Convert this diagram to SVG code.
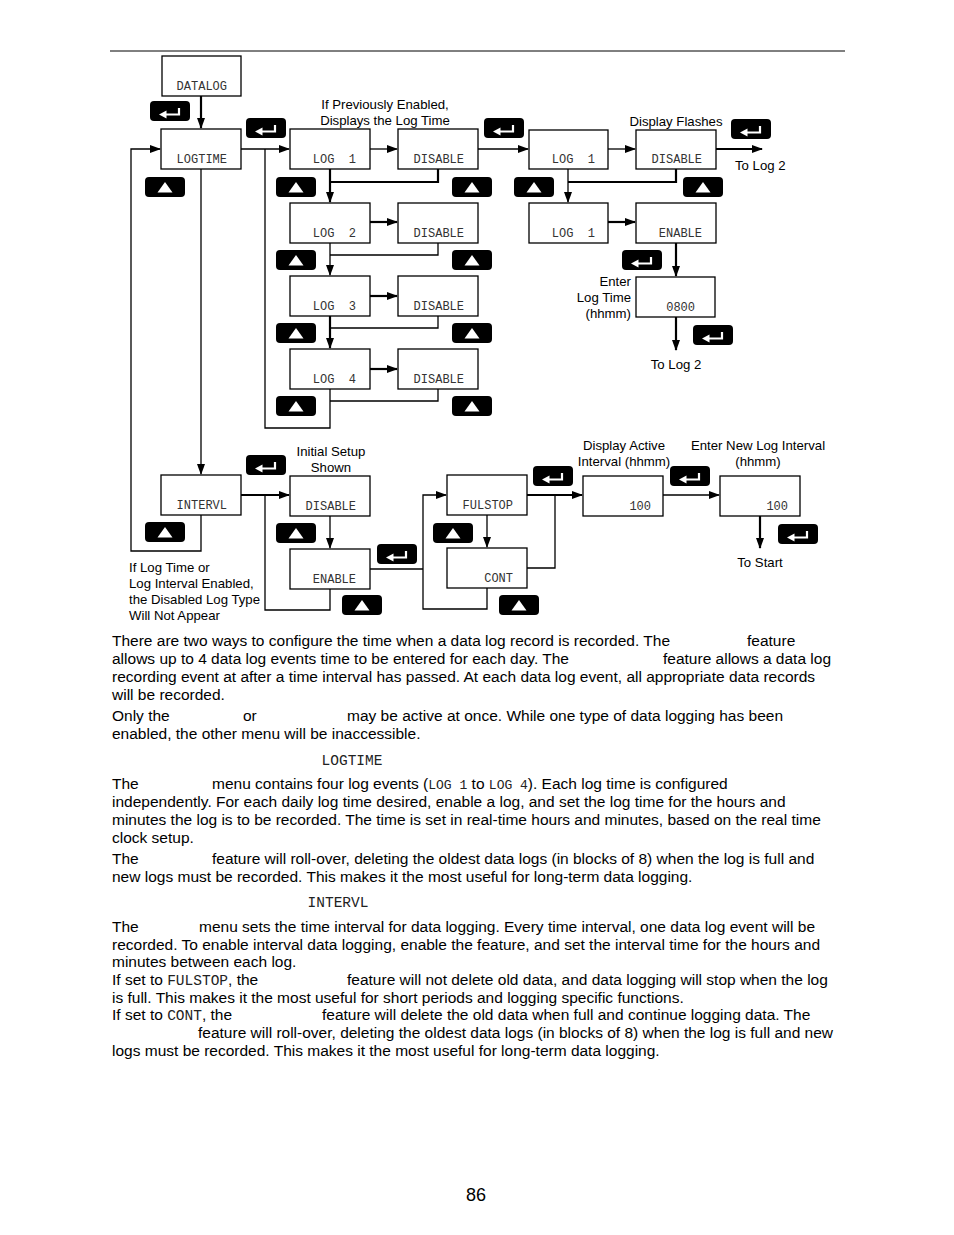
<svg xmlns="http://www.w3.org/2000/svg" xmlns:xlink="http://www.w3.org/1999/xlink" width="954" height="1235" viewBox="0 0 954 1235">
<style>
.bx{fill:#fff;stroke:#000;stroke-width:1.3}
.lcd{font-family:"Liberation Mono","DejaVu Sans Mono",monospace;font-size:12px;fill:#333;text-anchor:end}
.lcdi{font-family:"Liberation Mono","DejaVu Sans Mono",monospace;font-size:14.5px;fill:#222}
.lb{font-family:"Liberation Sans",Arial,sans-serif;font-size:13.2px;fill:#000}
.c{text-anchor:middle}
.r{text-anchor:end}
.bd{font-family:"Liberation Sans",Arial,sans-serif;font-size:15.5px;fill:#000}
.tn{fill:none;stroke:#000;stroke-width:1.3}
.tk{fill:none;stroke:#000;stroke-width:2.2}
</style>
<defs>
<marker id="ar" markerWidth="11" markerHeight="8" refX="10" refY="4" orient="auto" markerUnits="userSpaceOnUse"><path d="M0,0 L11,4 L0,8 Z" fill="#000"/></marker>
<g id="ent"><rect x="0" y="0" width="40" height="20" rx="4" fill="#000"/><path d="M15,13.5 H29 V7" stroke="#fff" stroke-width="2.2" fill="none"/><path d="M9,13.5 L16.5,9.5 V17.5 Z" fill="#fff"/></g>
<g id="up"><rect x="0" y="0" width="40" height="20" rx="4" fill="#000"/><path d="M12.5,15.5 H27.5 L20,5 Z" fill="#fff"/></g>
</defs>
<rect width="954" height="1235" fill="#fff"/>
<line x1="110" y1="51" x2="845" y2="51" stroke="#000" stroke-width="1"/>

<g id="connectors">
<path class="tk" d="M201,96 V128" marker-end="url(#ar)"/>
<path class="tn" d="M241,149 H289" marker-end="url(#ar)"/>
<path class="tn" d="M265,149 V428 H330 V389"/>
<path class="tn" d="M438,389 V401 H330"/>
<path class="tn" d="M370,149 H397" marker-end="url(#ar)"/>
<path class="tk" d="M330,169 V202" marker-end="url(#ar)"/>
<path class="tk" d="M438,169 V182 H330"/>
<path class="tk" d="M370,222 H397" marker-end="url(#ar)"/>
<path class="tn" d="M330,243 V275" marker-end="url(#ar)"/>
<path class="tn" d="M438,243 V255 H330"/>
<path class="tk" d="M370,296 H397" marker-end="url(#ar)"/>
<path class="tk" d="M330,316 V348" marker-end="url(#ar)"/>
<path class="tn" d="M438,316 V328 H330"/>
<path class="tk" d="M370,369 H397" marker-end="url(#ar)"/>
<path class="tn" d="M478,149 H528" marker-end="url(#ar)"/>
<path class="tn" d="M608,149 H635" marker-end="url(#ar)"/>
<path class="tk" d="M716,149 H762" marker-end="url(#ar)"/>
<path class="tn" d="M568,169 V202" marker-end="url(#ar)"/>
<path class="tk" d="M676,169 V182 H568"/>
<path class="tk" d="M608,222 H635" marker-end="url(#ar)"/>
<path class="tk" d="M676,243 V276" marker-end="url(#ar)"/>
<path class="tk" d="M676,317 V350" marker-end="url(#ar)"/>
<path class="tn" d="M201,169 V474" marker-end="url(#ar)"/>
<path class="tn" d="M201,515 V551 H131 V149 H160" marker-end="url(#ar)"/>
<path class="tk" d="M241,495 H289" marker-end="url(#ar)"/>
<path class="tn" d="M265,495 V610 H330 V589"/>
<path class="tn" d="M330,516 V548" marker-end="url(#ar)"/>
<path class="tn" d="M370,569 H423"/>
<path class="tn" d="M487,588 V609 H423 V495 H446" marker-end="url(#ar)"/>
<path class="tn" d="M487,515 V547" marker-end="url(#ar)"/>
<path class="tk" d="M527,495 H582" marker-end="url(#ar)"/>
<path class="tn" d="M527,568 H555 V495"/>
<path class="tn" d="M663,495 H719" marker-end="url(#ar)"/>
<path class="tk" d="M760,516 V548" marker-end="url(#ar)"/>
</g>

<g id="n-datalog"><rect class="bx" x="162" y="56" width="79" height="40"/><text class="lcd" x="227" y="90">DATALOG</text></g>
<g id="n-logtime"><rect class="bx" x="161" y="129" width="80" height="40"/><text class="lcd" x="227" y="163">LOGTIME</text></g>
<g id="n-log1"><rect class="bx" x="290" y="129" width="80" height="40"/><text class="lcd" x="356" y="163" xml:space="preserve">LOG  1</text></g>
<g id="n-dis1"><rect class="bx" x="398" y="129" width="80" height="40"/><text class="lcd" x="464" y="163">DISABLE</text></g>
<g id="n-log2"><rect class="bx" x="290" y="203" width="80" height="40"/><text class="lcd" x="356" y="237" xml:space="preserve">LOG  2</text></g>
<g id="n-dis2"><rect class="bx" x="398" y="203" width="80" height="40"/><text class="lcd" x="464" y="237">DISABLE</text></g>
<g id="n-log3"><rect class="bx" x="290" y="276" width="80" height="40"/><text class="lcd" x="356" y="310" xml:space="preserve">LOG  3</text></g>
<g id="n-dis3"><rect class="bx" x="398" y="276" width="80" height="40"/><text class="lcd" x="464" y="310">DISABLE</text></g>
<g id="n-log4"><rect class="bx" x="290" y="349" width="80" height="40"/><text class="lcd" x="356" y="383" xml:space="preserve">LOG  4</text></g>
<g id="n-dis4"><rect class="bx" x="398" y="349" width="80" height="40"/><text class="lcd" x="464" y="383">DISABLE</text></g>
<g id="n-log1b"><rect class="bx" x="529" y="130" width="79" height="39"/><text class="lcd" x="595" y="163" xml:space="preserve">LOG  1</text></g>
<g id="n-dis1b"><rect class="bx" x="636" y="130" width="80" height="39"/><text class="lcd" x="702" y="163">DISABLE</text></g>
<g id="n-log1c"><rect class="bx" x="529" y="203" width="79" height="40"/><text class="lcd" x="595" y="237" xml:space="preserve">LOG  1</text></g>
<g id="n-enable1"><rect class="bx" x="636" y="203" width="80" height="40"/><text class="lcd" x="702" y="237">ENABLE</text></g>
<g id="n-time"><rect class="bx" x="636" y="277" width="79" height="40"/><text class="lcd" x="695" y="311">0800</text></g>
<g id="n-intervl"><rect class="bx" x="161" y="475" width="80" height="40"/><text class="lcd" x="227" y="509">INTERVL</text></g>
<g id="n-dis5"><rect class="bx" x="290" y="476" width="80" height="40"/><text class="lcd" x="356" y="510">DISABLE</text></g>
<g id="n-enable2"><rect class="bx" x="290" y="549" width="80" height="40"/><text class="lcd" x="356" y="583">ENABLE</text></g>
<g id="n-fulstop"><rect class="bx" x="447" y="475" width="80" height="40"/><text class="lcd" x="513" y="509">FULSTOP</text></g>
<g id="n-cont"><rect class="bx" x="447" y="548" width="80" height="40"/><text class="lcd" x="513" y="582">CONT</text></g>
<g id="n-int1"><rect class="bx" x="583" y="476" width="80" height="40"/><text class="lcd" x="651" y="510">100</text></g>
<g id="n-int2"><rect class="bx" x="720" y="476" width="80" height="40"/><text class="lcd" x="788" y="510">100</text></g>

<g id="buttons">
<use xlink:href="#ent" x="150" y="101"/>
<use xlink:href="#ent" x="246" y="118"/>
<use xlink:href="#ent" x="484" y="118"/>
<use xlink:href="#ent" x="731" y="119"/>
<use xlink:href="#up" x="145" y="177"/>
<use xlink:href="#up" x="276" y="177"/>
<use xlink:href="#up" x="452" y="177"/>
<use xlink:href="#up" x="514" y="177"/>
<use xlink:href="#up" x="683" y="177"/>
<use xlink:href="#up" x="276" y="250"/>
<use xlink:href="#up" x="452" y="250"/>
<use xlink:href="#up" x="276" y="323"/>
<use xlink:href="#up" x="452" y="323"/>
<use xlink:href="#up" x="276" y="396"/>
<use xlink:href="#up" x="452" y="396"/>
<use xlink:href="#ent" x="622" y="250"/>
<use xlink:href="#ent" x="693" y="325"/>
<use xlink:href="#ent" x="246" y="455"/>
<use xlink:href="#up" x="145" y="522"/>
<use xlink:href="#up" x="276" y="523"/>
<use xlink:href="#ent" x="377" y="544"/>
<use xlink:href="#up" x="342" y="595"/>
<use xlink:href="#ent" x="533" y="466"/>
<use xlink:href="#up" x="433" y="523"/>
<use xlink:href="#up" x="499" y="595"/>
<use xlink:href="#ent" x="670" y="466"/>
<use xlink:href="#ent" x="778" y="524"/>
</g>

<g id="labels">
<text class="lb c" x="385" y="108.5">If Previously Enabled,</text>
<text class="lb c" x="385" y="124.5">Displays the Log Time</text>
<text class="lb c" x="676" y="125.5">Display Flashes</text>
<text class="lb" x="735" y="169.5">To Log 2</text>
<text class="lb r" x="631" y="285.5">Enter</text>
<text class="lb r" x="631" y="301.5">Log Time</text>
<text class="lb r" x="631" y="317.5">(hhmm)</text>
<text class="lb c" x="676" y="368.5">To Log 2</text>
<text class="lb c" x="331" y="455.5">Initial Setup</text>
<text class="lb c" x="331" y="471.5">Shown</text>
<text class="lb c" x="624" y="449.5">Display Active</text>
<text class="lb c" x="624" y="465.5">Interval (hhmm)</text>
<text class="lb c" x="758" y="449.5">Enter New Log Interval</text>
<text class="lb c" x="758" y="465.5">(hhmm)</text>
<text class="lb c" x="760" y="566.5">To Start</text>
<text class="lb" x="129" y="571.5">If Log Time or</text>
<text class="lb" x="129" y="587.5">Log Interval Enabled,</text>
<text class="lb" x="129" y="603.5">the Disabled Log Type</text>
<text class="lb" x="129" y="619.5">Will Not Appear</text>
</g>

<g id="body">
<text class="bd" x="112" y="645.5">There are two ways to configure the time when a data log record is recorded. The</text>
<text class="bd" x="747" y="645.5">feature</text>
<text class="bd" x="112" y="663.5">allows up to 4 data log events time to be entered for each day. The</text>
<text class="bd" x="663" y="663.5">feature allows a data log</text>
<text class="bd" x="112" y="681.5">recording event at after a time interval has passed. At each data log event, all appropriate data records</text>
<text class="bd" x="112" y="699.5">will be recorded.</text>
<text class="bd" x="112" y="720.5">Only the</text>
<text class="bd" x="243" y="720.5">or</text>
<text class="bd" x="347" y="720.5">may be active at once. While one type of data logging has been</text>
<text class="bd" x="112" y="738.5">enabled, the other menu will be inaccessible.</text>
<text class="lcdi" x="352" y="765" text-anchor="middle">LOGTIME</text>
<text class="bd" x="112" y="788.5">The</text>
<text class="bd" x="212" y="788.5">menu contains four log events (<tspan class="lcdi" style="font-size:13px">LOG 1</tspan> to <tspan class="lcdi" style="font-size:13px">LOG 4</tspan>). Each log time is configured</text>
<text class="bd" x="112" y="806.5">independently. For each daily log time desired, enable a log, and set the log time for the hours and</text>
<text class="bd" x="112" y="824.5">minutes the log is to be recorded. The time is set in real-time hours and minutes, based on the real time</text>
<text class="bd" x="112" y="842.5">clock setup.</text>
<text class="bd" x="112" y="863.5">The</text>
<text class="bd" x="212" y="863.5">feature will roll-over, deleting the oldest data logs (in blocks of 8) when the log is full and</text>
<text class="bd" x="112" y="881.5">new logs must be recorded. This makes it the most useful for long-term data logging.</text>
<text class="lcdi" x="338" y="907" text-anchor="middle">INTERVL</text>
<text class="bd" x="112" y="931.5">The</text>
<text class="bd" x="199" y="931.5">menu sets the time interval for data logging. Every time interval, one data log event will be</text>
<text class="bd" x="112" y="949.5">recorded. To enable interval data logging, enable the feature, and set the interval time for the hours and</text>
<text class="bd" x="112" y="966.5">minutes between each log.</text>
<text class="bd" x="112" y="984.5">If set to <tspan class="lcdi">FULSTOP</tspan>, the</text>
<text class="bd" x="347" y="984.5">feature will not delete old data, and data logging will stop when the log</text>
<text class="bd" x="112" y="1002.5">is full. This makes it the most useful for short periods and logging specific functions.</text>
<text class="bd" x="112" y="1019.5">If set to <tspan class="lcdi">CONT</tspan>, the</text>
<text class="bd" x="322" y="1019.5">feature will delete the old data when full and continue logging data. The</text>
<text class="bd" x="198" y="1037.5">feature will roll-over, deleting the oldest data logs (in blocks of 8) when the log is full and new</text>
<text class="bd" x="112" y="1055.5">logs must be recorded. This makes it the most useful for long-term data logging.</text>
<text class="bd" x="476" y="1201" text-anchor="middle" style="font-size:18px">86</text>
</g>
</svg>
